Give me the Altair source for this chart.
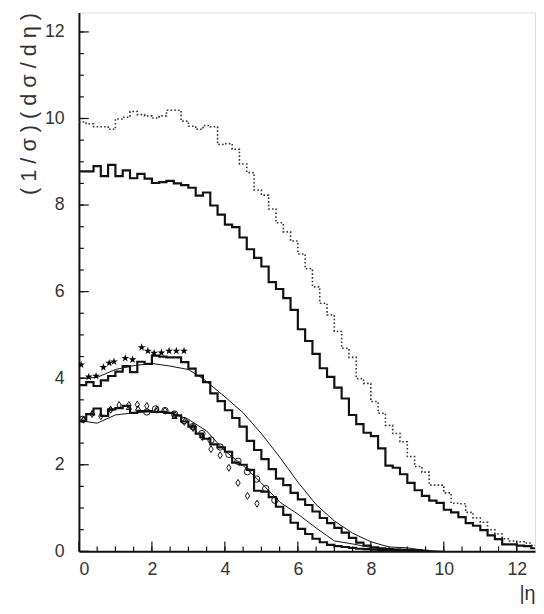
import altair as alt
import pandas as pd

# ---------------- data ----------------
BIN = 0.2  # histogram bin width in |eta|

# dotted histogram (top)
dotted_vals = [9.92, 9.88, 9.81, 9.81, 9.75, 9.99, 10.03, 10.16, 10.09, 10.06,
               10.01, 10.06, 10.19, 10.19, 9.94, 9.82, 9.75, 9.84, 9.81, 9.40,
               9.42, 9.29, 8.95, 8.75, 8.35, 8.23, 7.91, 7.59, 7.38, 7.17,
               6.87, 6.53, 6.11, 5.73, 5.46, 5.08, 4.69, 4.48, 3.99, 3.88,
               3.46, 3.19, 2.91, 2.72, 2.53, 2.19, 1.96, 1.83, 1.53, 1.53,
               1.35, 1.11, 1.10, 0.90, 0.77, 0.67, 0.50, 0.40, 0.29, 0.24,
               0.22, 0.19, 0.14]

# solid histogram (~8.8)
solid_top_vals = [8.78, 8.78, 8.90, 8.67, 8.93, 8.67, 8.80, 8.62, 8.72, 8.61,
                  8.51, 8.53, 8.56, 8.50, 8.46, 8.40, 8.22, 8.29, 7.99, 7.78,
                  7.55, 7.49, 7.25, 6.98, 6.78, 6.58, 6.22, 6.06, 5.85, 5.58,
                  5.13, 4.86, 4.56, 4.23, 4.03, 3.78, 3.53, 3.15, 2.94, 2.74,
                  2.66, 2.38, 1.98, 1.93, 1.78, 1.58, 1.41, 1.28, 1.17, 1.12,
                  0.96, 0.90, 0.79, 0.65, 0.59, 0.49, 0.37, 0.28, 0.16, 0.16,
                  0.13, 0.12, 0.07]

# solid histogram (~4)
solid_mid_vals = [3.84, 3.91, 3.82, 3.95, 4.05, 4.15, 4.28, 4.14, 4.38, 4.33,
                  4.52, 4.50, 4.48, 4.48, 4.37, 4.22, 4.06, 3.91, 3.65, 3.47,
                  3.26, 3.08, 2.88, 2.55, 2.34, 2.13, 1.90, 1.68, 1.53, 1.35,
                  1.20, 1.07, 0.92, 0.77, 0.65, 0.54, 0.43, 0.31, 0.20, 0.13,
                  0.09, 0.07, 0.05, 0.04, 0.03, 0.02, 0.02, 0.01]

# solid histogram (~3)
solid_low_vals = [3.02, 3.17, 3.30, 3.13, 3.28, 3.31, 3.36, 3.20, 3.24, 3.24,
                  3.22, 3.22, 3.20, 3.14, 3.00, 2.88, 2.72, 2.60, 2.47, 2.40,
                  2.30, 2.05, 2.00, 1.88, 1.40, 1.38, 1.25, 1.03, 0.84, 0.66,
                  0.52, 0.40, 0.29, 0.21, 0.15, 0.12, 0.10, 0.08, 0.06, 0.05,
                  0.04, 0.03, 0.03, 0.02, 0.02, 0.01]

# thin smooth curves
curve_up_x = [0.0, 0.5, 1.0, 1.5, 2.0, 2.5, 3.0, 3.4, 4.0, 4.5, 5.0, 5.5, 6.0,
              6.5, 7.0, 7.5, 8.0, 8.5, 9.0, 9.5, 10.0]
curve_up_y = [3.99, 4.02, 4.20, 4.29, 4.34, 4.28, 4.20, 3.99, 3.57, 3.20, 2.72,
              2.18, 1.60, 1.08, 0.70, 0.42, 0.22, 0.10, 0.08, 0.02, 0.0]
curve_lo_x = [0.0, 0.5, 1.0, 1.5, 2.0, 2.5, 3.0, 3.5, 4.0, 4.5, 5.0, 5.5, 6.0,
              6.5, 7.0, 7.5, 8.0, 8.5, 9.0, 9.5]
curve_lo_y = [3.02, 2.96, 3.15, 3.20, 3.23, 3.20, 3.05, 2.78, 2.32, 1.98, 1.58,
              1.14, 0.86, 0.54, 0.24, 0.17, 0.09, 0.05, 0.05, 0.01]

# data points
star_x = [0.06, 0.27, 0.47, 0.67, 0.83, 0.96, 1.27, 1.47, 1.72, 1.89, 2.06,
          2.26, 2.47, 2.67, 2.88]
star_y = [4.31, 4.03, 4.05, 4.25, 4.35, 4.38, 4.46, 4.43, 4.71, 4.63, 4.58,
          4.59, 4.63, 4.63, 4.63]

diam_x = [0.13, 0.36, 0.60, 0.87, 1.10, 1.37, 1.60, 1.86, 2.13, 2.36, 2.63,
          2.89, 3.13, 3.38, 3.62, 3.87, 4.11, 4.36, 4.62, 4.88]
diam_y = [3.04, 3.17, 3.12, 3.27, 3.38, 3.38, 3.39, 3.36, 3.27, 3.25, 3.15,
          2.99, 2.85, 2.64, 2.36, 2.22, 1.93, 1.58, 1.28, 1.10]

tri_x = [0.12, 0.37, 0.87, 1.37, 1.62, 2.12, 2.62, 3.12, 3.37]
tri_y = [3.06, 3.20, 3.30, 3.33, 3.31, 3.26, 3.12, 2.90, 2.68]

circ_x = [0.10, 1.86, 2.10, 2.36, 2.62, 2.88, 3.12, 3.37, 3.62, 3.87, 4.11,
          4.36, 4.62, 4.87, 5.12, 5.37]
circ_y = [3.05, 3.22, 3.29, 3.25, 3.17, 3.02, 2.88, 2.72, 2.57, 2.41, 2.24,
          2.08, 1.84, 1.67, 1.45, 1.18]

major_ticks = [0, 2, 4, 6, 8, 10, 12]
minor_ticks = [i * 0.5 for i in range(1, 25)]

x_title = "|η"
y_title = "( 1 / σ ) ( d σ / d η )"

# ---------------- build tables ----------------
def hist_df(vals):
    xs = [i * BIN for i in range(len(vals))] + [len(vals) * BIN]
    ys = list(vals) + [vals[-1]]
    return pd.DataFrame({"x": xs, "y": ys})

W, H = 463, 547
FONT = "Liberation Sans"
INK = "#111111"

xscale = alt.Scale(domain=[0, 12.5], nice=False, zero=False)
yscale = alt.Scale(domain=[0, 12.45], nice=False, zero=False)
xaxis = alt.Axis(values=major_ticks, tickSize=0, grid=False, labelFontSize=18,
                 labelFont=FONT, labelColor="#333", labelPadding=10,
                 domainWidth=2, domainColor=INK, title=x_title,
                 titleFont=FONT, titleFontSize=20, titleFontWeight="normal",
                 titleColor="#333", titleAnchor="end", titleAlign="right",
                 titleX=W, titleY=49, titleBaseline="alphabetic")
yaxis = alt.Axis(values=major_ticks, tickSize=0, grid=False, labelFontSize=18,
                 labelFont=FONT, labelColor="#333", labelPadding=15,
                 domainWidth=2, domainColor=INK, title=y_title,
                 titleFont=FONT, titleFontSize=22, titleFontWeight="normal",
                 titleColor="#333", titleAnchor="end", titleAlign="right",
                 titleAngle=-90, titleX=-51, titleY=0, titleBaseline="middle")

def X(f="x"):
    return alt.X(f, type="quantitative", scale=xscale, axis=xaxis)

def Y(f="y"):
    return alt.Y(f, type="quantitative", scale=yscale, axis=yaxis)

layers = []

# histograms
layers.append(alt.Chart(hist_df(dotted_vals)).mark_line(
    interpolate="step-after", color="#333", strokeWidth=1.6,
    strokeDash=[1.6, 2.2], clip=True).encode(x=X(), y=Y()))
for vals in (solid_top_vals, solid_mid_vals, solid_low_vals):
    layers.append(alt.Chart(hist_df(vals)).mark_line(
        interpolate="step-after", color=INK, strokeWidth=2.2, clip=True
    ).encode(x=X(), y=Y()))

# smooth curves
for cx, cy in ((curve_up_x, curve_up_y), (curve_lo_x, curve_lo_y)):
    layers.append(alt.Chart(pd.DataFrame({"x": cx, "y": cy})).mark_line(
        color=INK, strokeWidth=1.0, clip=True).encode(x=X(), y=Y()))

# markers
STAR = ("M0,-1L0.224,-0.309L0.951,-0.309L0.363,0.118L0.588,0.809L0,0.382"
        "L-0.588,0.809L-0.363,0.118L-0.951,-0.309L-0.224,-0.309Z")
DIAM = "M0,-1L0.62,0L0,1L-0.62,0Z"
layers.append(alt.Chart(pd.DataFrame({"x": star_x, "y": star_y})).mark_point(
    shape=STAR, filled=True, color="#000", size=70, opacity=1,
    clip=True).encode(x=X(), y=Y()))
layers.append(alt.Chart(pd.DataFrame({"x": diam_x, "y": diam_y})).mark_point(
    shape=DIAM, filled=False, color=INK, size=50, strokeWidth=1, opacity=1,
    clip=True).encode(x=X(), y=Y()))
layers.append(alt.Chart(pd.DataFrame({"x": tri_x, "y": tri_y})).mark_point(
    shape="triangle-up", filled=False, color=INK, size=28, strokeWidth=1,
    opacity=1, clip=True).encode(x=X(), y=Y()))
layers.append(alt.Chart(pd.DataFrame({"x": circ_x, "y": circ_y})).mark_point(
    shape="circle", filled=False, color=INK, size=42, strokeWidth=1, opacity=1,
    clip=True).encode(x=X(), y=Y()))

# inward tick marks
mj = pd.DataFrame({"t": major_ticks})
mn = pd.DataFrame({"t": minor_ticks})
layers.append(alt.Chart(mj).mark_rule(color=INK, strokeWidth=1.2).encode(
    x=X("t"), y=alt.value(H), y2=alt.value(H - 10)))
layers.append(alt.Chart(mn).mark_rule(color=INK, strokeWidth=1.2).encode(
    x=X("t"), y=alt.value(H), y2=alt.value(H - 5)))
layers.append(alt.Chart(mj).mark_rule(color=INK, strokeWidth=1.2).encode(
    y=Y("t"), x=alt.value(0), x2=alt.value(10)))
layers.append(alt.Chart(mn).mark_rule(color=INK, strokeWidth=1.2).encode(
    y=Y("t"), x=alt.value(0), x2=alt.value(5)))

chart = alt.layer(*layers).properties(
    width=W, height=H,
    autosize=alt.AutoSizeParams(type="none"),
    padding={"left": 72, "top": 0, "right": 1, "bottom": 52},
).configure_view(stroke="#333", strokeWidth=1).configure(background="white")

chart.save("out.html", embed_options={"renderer": "svg", "actions": False})
